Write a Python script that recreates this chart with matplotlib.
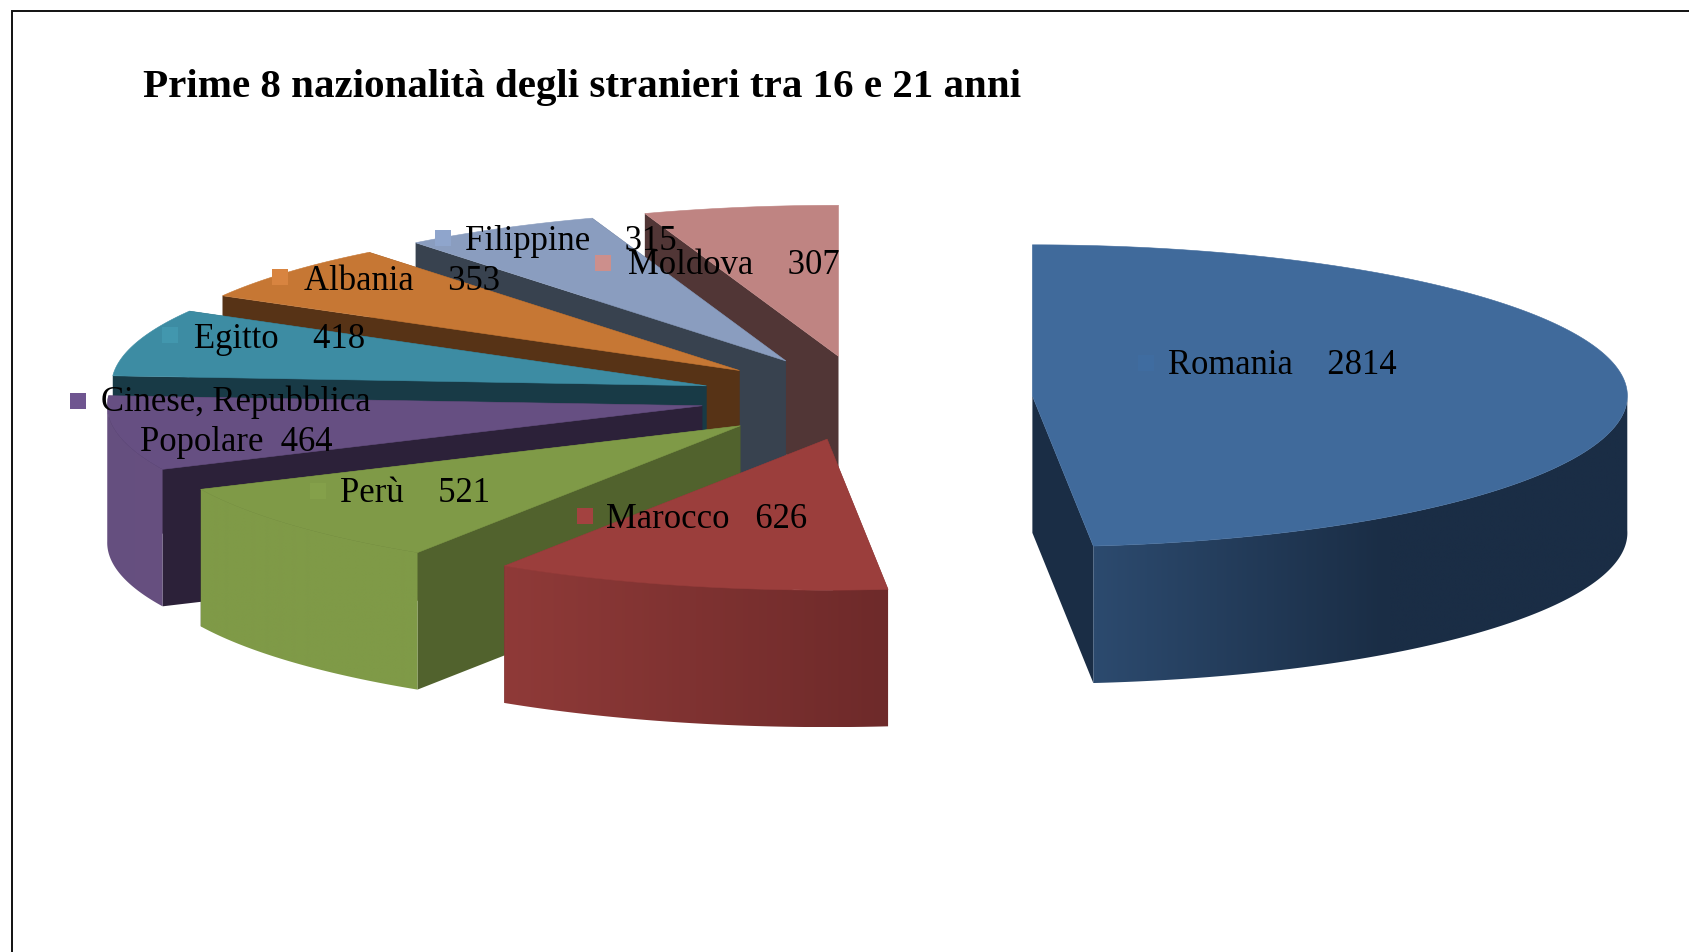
import numpy as np
import matplotlib
matplotlib.use("Agg")
import matplotlib.pyplot as plt
from matplotlib.patches import Polygon

title = "Prime 8 nazionalità degli stranieri tra 16 e 21 anni"
categories = ["Romania", "Marocco", "Perù", "Cinese, Repubblica\nPopolare", "Egitto",
              "Albania", "Filippine", "Moldova"]
values = [2814, 626, 521, 464, 418, 353, 315, 307]
separators = ["    ", "   ", "    ", "  ", "    ", "    ", "    ", "    "]

top_colors = ["#406a9b", "#9b3e3c", "#7f9a47", "#664f82", "#3d8ca3", "#c67734", "#8a9dbf", "#bf8482"]
face_colors = ["#1a2d45", "#6e2a2a", "#51622d", "#2c2139", "#183a46", "#573316", "#38424f", "#513636"]
rim_left = ["#2c4a6e", "#8f3a38", "#7f9a47", "#654f80", "#3d8ca3", "#c67734", "#8a9dbf", "#bf8482"]
rim_right = ["#1a2d45", "#6e2a2a", "#7f9a47", "#67507f", "#3d8ca3", "#c67734", "#8a9dbf", "#bf8482"]
key_colors = ["#3f6ca0", "#a34240", "#84a04a", "#6f5590", "#4297ae", "#d88440", "#8fa5cc", "#cc8f8c"]

# Where each slice's label sits, in figure pixels
key_xy = [(1146, 363), (585, 516), (318, 491), (78, 401), (170, 335), (280, 277), (443, 238), (603, 263)]
text_xy = [(1168, 366), (606, 519), (340, 494), (101, 422), (194, 339), (304, 281), (465, 241), (628, 266)]

W, H = 1689, 952
CX, CY, RX, RY, DEPTH, EXPLODE = 866, 398, 595, 151, 137, 0.28
# back to front; Romania is clear of the others
draw_order = [0, 7, 6, 5, 4, 3, 2, 1]

fig = plt.figure(figsize=(W / 100, H / 100), dpi=100, facecolor="white")
ax = fig.add_axes([0, 0, 1, 1])
ax.set_xlim(0, W)
ax.set_ylim(H, 0)
ax.axis("off")

vals = np.array(values, dtype=float)
edges = np.concatenate([[0], np.cumsum(vals)]) / vals.sum() * 2 * np.pi


def rgb(c):
    return np.array(matplotlib.colors.to_rgb(c))


z = 2
for i in draw_order:
    t0, t1 = edges[i], edges[i + 1]
    mid = (t0 + t1) / 2
    ax0 = CX + EXPLODE * RX * np.sin(mid)
    ay0 = CY - EXPLODE * RY * np.cos(mid)
    th = np.linspace(t0, t1, max(int((t1 - t0) * 90), 12))
    xs = ax0 + RX * np.sin(th)
    ys = ay0 - RY * np.cos(th)

    # cut faces
    for px, py in ((xs[0], ys[0]), (xs[-1], ys[-1])):
        ax.fill([ax0, px, px, ax0], [ay0, py, py + DEPTH, ay0 + DEPTH],
                color=face_colors[i], lw=0, zorder=z)
    z += 1

    # outer rim, a left-to-right gradient clipped to the rim's outline
    front = np.cos(th) <= 0.02
    if front.any():
        fx, fy = xs[front], ys[front]
        xmin, xmax = fx.min(), fx.max()
        f = np.linspace(0, 1, 64)
        if i == 0:
            f = np.minimum(f / 0.55, 1)
        grad = (1 - f)[:, None] * rgb(rim_left[i]) + f[:, None] * rgb(rim_right[i])
        outline = Polygon(np.c_[np.r_[fx, fx[::-1]], np.r_[fy, fy[::-1] + DEPTH]],
                          closed=True, transform=ax.transData, lw=0)
        im = ax.imshow(grad[None, :, :], extent=(xmin, xmax, fy.max() + DEPTH, fy.min()),
                       aspect="auto", interpolation="bilinear", zorder=z)
        im.set_clip_path(outline)
    z += 1

    # top
    ax.fill(np.r_[ax0, xs], np.r_[ay0, ys], facecolor=top_colors[i], edgecolor=top_colors[i],
            lw=0.4, zorder=z)
    z += 1

ax.set_xlim(0, W)
ax.set_ylim(H, 0)

font = ["Liberation Serif"]
for i in range(len(values)):
    ax.scatter(*key_xy[i], marker="s", s=125, color=key_colors[i], linewidths=0, zorder=z)
    ax.text(*text_xy[i], f"{categories[i]}{separators[i]}{values[i]}", family=font,
            fontsize=24.9, color="black", ha="left", va="center", ma="center",
            linespacing=1.27, zorder=z + 1)

ax.text(143, 88, title, family=font, fontsize=29.5, fontweight="bold", color="black",
        ha="left", va="center", zorder=z + 1)

# picture border: only the top and left edges fall inside the crop
ax.plot([W, 12, 12], [10.5, 10.5, H], color="#111111", lw=1.4, zorder=z + 2, solid_joinstyle="miter")

fig.savefig("out.png", dpi=100, facecolor="white")
